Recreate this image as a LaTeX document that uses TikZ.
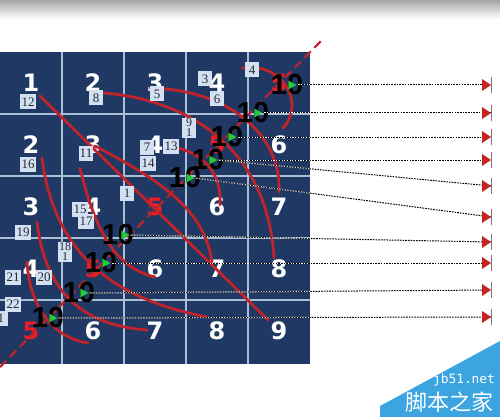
\documentclass[tikz,border=0pt]{standalone}
\usepackage{fontspec}
\newfontfamily\numfont{DejaVu Sans}
\newfontfamily\tenfont{Liberation Sans}
\newfontfamily\labfont{Liberation Serif}
\newfontfamily\cjkfont{Noto Sans CJK SC}
\newfontfamily\wmfont{DejaVu Sans Mono}
\usetikzlibrary{shapes.geometric}
\definecolor{navy}{RGB}{31,56,100}
\definecolor{gridc}{RGB}{172,190,214}
\definecolor{curve}{RGB}{192,36,42}
\definecolor{fivered}{RGB}{236,30,36}
\definecolor{labfill}{RGB}{210,224,242}
\definecolor{labtext}{RGB}{40,40,50}
\definecolor{gtri}{RGB}{40,200,60}
\definecolor{tipred}{RGB}{200,35,35}
\definecolor{bargray}{RGB}{140,105,115}
\definecolor{wmblue}{RGB}{60,165,225}
\begin{document}
\begin{tikzpicture}[x=1pt,y=-1pt,
  gridline/.style={draw=gridc,line width=1.3pt},
  cellnum/.style={font=\numfont\bfseries\fontsize{24}{24}\selectfont,inner sep=0pt},
  lab/.style={fill=labfill,text=labtext,font=\labfont\fontsize{13}{13}\selectfont,inner sep=1.2pt,minimum width=14pt,minimum height=15pt},
  lab2/.style={lab,align=center,font=\labfont\fontsize{12}{10}\selectfont},
  tenlab/.style={font=\tenfont\bfseries\fontsize{29}{29}\selectfont,text=black,inner sep=0pt},
  greentri/.style={isosceles triangle,isosceles triangle stretches,fill=gtri,minimum width=9pt,minimum height=8pt,inner sep=0pt},
  redc/.style={draw=curve,line width=2.8pt,line cap=round},
  dotw/.style={draw=white,line width=1pt},
  dotb/.style={draw=black,line width=1pt,dash pattern=on 1.6pt off 1.1pt},
  endtip/.pic={\fill[tipred] (-9,-6) -- (0,0) -- (-9,6) -- cycle;
               \draw[bargray,line width=1.3pt] (0.6,-8) -- (0.6,8);}
]
\useasboundingbox (0,0) rectangle (500,417);
\fill[white] (0,0) rectangle (500,417);
% top band
\shade[top color=gray!70,bottom color=white] (0,0) rectangle (500,19);
% grid
\fill[navy] (0,52) rectangle (310,364);
\foreach \x in {62,124,186,248} \draw[gridline] (\x,52) -- (\x,364);
\foreach \y in {114,176,238,300} \draw[gridline] (0,\y) -- (310,\y);
% cell numbers
\foreach \r in {1,...,5}{\foreach \c in {1,...,5}{
  \pgfmathtruncatemacro{\v}{\r+\c-1}
  \ifnum\v=5 \def\col{fivered}\else\def\col{white}\fi
  \node[cellnum,text=\col] (c\r\c) at ({62*\c-31},{62*\r+21}) {\v};
}}
% curve end points
\coordinate (a1) at (40,96);   \coordinate (b1) at (268,320);
\coordinate (a2) at (104,93);  \coordinate (b2) at (274,258);
\coordinate (a3) at (150,88);  \coordinate (b3) at (279,192);
\coordinate (a4) at (242,68);  \coordinate (b4) at (283,128);
\coordinate (a5) at (42,158);  \coordinate (b5) at (207,317);
\coordinate (a6) at (178,148); \coordinate (b6) at (220,205);
\coordinate (a7) at (95,146);  \coordinate (b7) at (212,262);
\coordinate (a8) at (37,222);  \coordinate (b8) at (147,330);
\coordinate (a9) at (27,262);  \coordinate (b9) at (88,343);
\coordinate (a10) at (80,168); \coordinate (b10) at (155,277);
\draw[redc] (a1) -- (b1);
\draw[redc] (a2) .. controls (190,100) and (268,150) .. (b2);
\draw[redc] (a3) .. controls (235,90) and (282,140) .. (b3);
\draw[redc] (a4) .. controls (285,62) and (305,105) .. (b4);
\draw[redc] (a5) .. controls (55,260) and (120,300) .. (b5);
\draw[redc] (a6) .. controls (205,155) and (222,175) .. (b6);
\draw[redc] (a7) .. controls (160,180) and (205,210) .. (b7);
\draw[redc] (a8) .. controls (45,290) and (80,325) .. (b8);
\draw[redc] (a9) .. controls (30,310) and (55,338) .. (b9);
\draw[redc] (a10) .. controls (95,230) and (115,268) .. (b10);
% dashed diagonal
\coordinate (d1) at (0,367); \coordinate (d2) at (321,41);
\draw[draw=curve,line width=2.2pt,dash pattern=on 9pt off 5pt] (d1) -- (d2);
% labels
\node[lab] (l12) at (28,102) {12};
\node[lab] (l8) at (96,98) {8};
\node[lab] (l5) at (157,94) {5};
\node[lab] (l3) at (205,79) {3};
\node[lab] (l6) at (217,99) {6};
\node[lab] (l4) at (252,70) {4};
\node[lab] (l16) at (28,164) {16};
\node[lab] (l11) at (86,153) {11};
\node[lab] (l7) at (147,147) {7};
\node[lab] (l14) at (148,163) {14};
\node[lab] (l13) at (171,146) {13};
\node[lab2] (l9) at (189,128) {9\\1};
\node[lab] (l1a) at (127,193) {1};
\node[lab] (l15) at (80,209) {15};
\node[lab] (l17) at (86,221) {17};
\node[lab] (l19) at (23,232) {19};
\node[lab2] (l18) at (65,252) {18\\1};
\node[lab] (l21) at (13,277) {21};
\node[lab] (l20) at (44,277) {20};
\node[lab] (l22) at (13,304) {22};
\node[lab] (l1b) at (1,318) {1};
% tens
\node[tenlab] (t1) at (287,85) {10};
\node[tenlab] (t2) at (253,113) {10};
\node[tenlab] (t3) at (227,137) {10};
\node[tenlab] (t4) at (208,160) {10};
\node[tenlab] (t5) at (185,178) {10};
\node[tenlab] (t6) at (118,235) {10};
\node[tenlab] (t7) at (101,263) {10};
\node[tenlab] (t8) at (79,293) {10};
\node[tenlab] (t9) at (48,318) {10};
% green triangles
\node[greentri] (g1) at (291,85) {};
\node[greentri] (g2) at (257,113) {};
\node[greentri] (g3) at (231,137) {};
\node[greentri] (g4) at (212,160) {};
\node[greentri] (g5) at (189,178) {};
\node[greentri] (g6) at (124,235) {};
\node[greentri] (g7) at (105,263) {};
\node[greentri] (g8) at (83,293) {};
\node[greentri] (g9) at (52,318) {};
% arrow ends
\coordinate (e1) at (491,85);
\coordinate (e2) at (491,113);
\coordinate (e3) at (491,137);
\coordinate (e4) at (491,160);
\coordinate (e5) at (491,186);
\coordinate (e6) at (491,217);
\coordinate (e7) at (491,242);
\coordinate (e8) at (491,263);
\coordinate (e9) at (491,290);
\coordinate (e10) at (491,317);
\foreach \g/\e in {g1/e1,g2/e2,g3/e3,g4/e4,g4/e5,g5/e6,g6/e7,g7/e8,g8/e9,g9/e10}{
  \draw[dotw] (\g.apex) -- (\e);
  \draw[dotb] (\g.apex) -- (\e);
  \pic at (\e) {endtip};
}
% watermark
\fill[wmblue] (380,406) -- (500,341) -- (500,417) -- (380,417) -- cycle;
\node[text=white,font=\wmfont\fontsize{12.8}{12.8}\selectfont,inner sep=0pt] (wm1) at (464,380) {jb51.net};
\node[text=white,font=\cjkfont\fontsize{22}{22}\selectfont,inner sep=0pt] (wm2) at (449,402) {脚本之家};
\end{tikzpicture}
\end{document}
